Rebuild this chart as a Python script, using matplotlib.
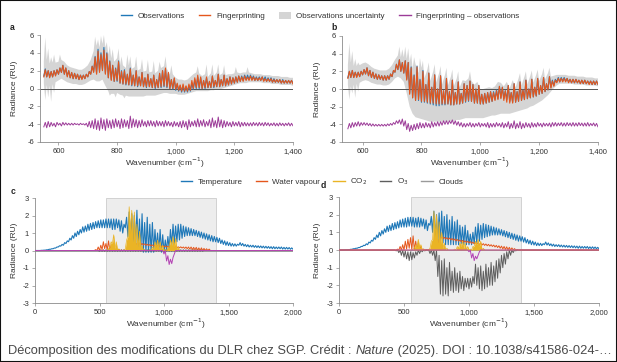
import numpy as np
import matplotlib
matplotlib.use("Agg")
import matplotlib.pyplot as plt
from matplotlib.patches import Rectangle, Patch
from matplotlib.lines import Line2D
from matplotlib.ticker import FuncFormatter

plt.rcParams['font.family'] = ['Liberation Sans', 'DejaVu Sans']
plt.rcParams['axes.unicode_minus'] = False

# ---------------- data: panels a, b (550..1400 step 10) ----------------
x_ab = np.arange(550, 1401, 10)

fp_a_lo = [1.3,1.3,1.2,1.3,1.4,1.6,1.8,1.6,1.3,1.2,
           1.1,1.1,1.0,1.0,1.1,1.3,1.6,1.8,1.6,1.8,
           2.0,1.6,1.2,0.9,0.8,0.9,0.6,0.5,0.5,0.4,
           0.4,0.3,0.3,0.3,0.2,0.2,0.2,0.1,0.1,0.1,
           0.2,0.3,0.2,0.0,0.0,-0.1,-0.2,-0.3,-0.3,-0.3,
           -0.2,0.0,0.1,0.1,0.0,0.1,0.1,0.1,0.2,0.2,
           0.2,0.3,0.3,0.4,0.5,0.6,0.7,0.8,0.8,0.9,
           0.9,0.9,0.9,0.9,0.9,0.8,0.8,0.8,0.7,0.7,
           0.7,0.6,0.6,0.6,0.6,0.5]
fp_a_hi = [2.1,2.0,1.9,2.0,2.1,2.3,2.6,2.3,2.0,1.8,
           1.7,1.6,1.5,1.5,1.6,1.9,2.5,3.5,4.2,3.8,
           4.3,3.9,3.0,2.6,2.2,3.0,1.9,2.0,1.6,2.2,
           1.5,2.0,1.3,1.8,1.2,1.6,1.1,1.5,1.0,1.7,
           2.0,2.3,1.8,1.0,1.2,0.6,0.4,0.5,0.3,0.5,
           0.9,1.2,1.5,1.3,0.9,1.3,0.8,1.4,0.9,1.6,
           1.0,1.5,1.1,1.3,1.2,1.3,1.4,1.3,1.4,1.3,
           1.4,1.3,1.2,1.2,1.3,1.1,1.1,1.1,1.0,1.0,
           1.0,0.9,0.9,0.9,0.9,0.8]
obs_a_lo = [1.4,1.3,1.3,1.3,1.5,1.6,1.8,1.6,1.4,1.2,
            1.1,1.1,1.0,1.1,1.1,1.3,1.6,1.9,1.7,1.9,
            2.1,1.7,1.2,1.0,0.8,0.8,0.6,0.5,0.4,0.4,
            0.3,0.3,0.2,0.3,0.2,0.1,0.2,0.1,0.0,0.1,
            0.1,0.2,0.1,0.0,-0.1,-0.2,-0.3,-0.4,-0.4,-0.4,
            -0.3,-0.1,0.0,0.0,0.0,0.0,0.1,0.1,0.1,0.2,
            0.2,0.3,0.3,0.4,0.5,0.6,0.7,0.8,0.9,1.0,
            1.0,1.0,0.9,0.9,0.9,0.9,0.8,0.8,0.7,0.7,
            0.7,0.6,0.6,0.6,0.6,0.6]
obs_a_hi = [2.2,2.0,1.9,2.0,2.1,2.3,2.6,2.3,2.0,1.8,
            1.7,1.6,1.5,1.5,1.6,1.9,2.5,3.6,4.4,4.0,
            4.6,4.0,3.1,2.6,2.3,3.1,2.0,2.1,1.6,2.3,
            1.5,2.0,1.3,1.8,1.2,1.6,1.1,1.5,1.0,1.7,
            2.0,2.2,1.7,1.0,1.1,0.5,0.3,0.3,0.2,0.3,
            0.6,1.0,1.3,1.2,0.9,1.2,0.8,1.4,0.9,1.6,
            1.0,1.5,1.1,1.3,1.2,1.3,1.4,1.4,1.5,1.5,
            1.5,1.4,1.3,1.3,1.3,1.3,1.2,1.2,1.1,1.0,
            1.0,1.0,0.9,0.9,0.9,0.8]
unc_a_up = [3.0,3.2,2.8,2.9,2.9,3.0,3.2,3.0,2.6,2.4,
            2.3,2.2,2.1,2.1,2.3,2.6,3.2,4.2,4.8,4.6,
            5.0,4.6,3.8,3.4,3.0,3.4,2.6,2.6,2.3,2.6,
            2.2,2.4,2.0,2.2,1.9,2.0,1.8,1.9,1.7,2.0,
            2.3,2.5,2.2,1.6,1.6,1.2,1.0,1.0,0.9,1.0,
            1.3,1.6,1.8,1.7,1.4,1.6,1.3,1.7,1.4,1.8,
            1.5,1.7,1.5,1.6,1.6,1.7,1.8,1.7,1.8,1.8,
            1.8,1.7,1.6,1.6,1.6,1.5,1.5,1.5,1.4,1.4,
            1.4,1.3,1.3,1.3,1.2,1.2]
unc_a_dn = [0.6,0.4,0.3,0.5,0.7,0.9,1.1,0.9,0.7,0.6,
            0.5,0.5,0.4,0.4,0.5,0.7,0.9,1.0,0.8,0.8,
            1.0,0.3,-0.3,-0.6,-0.6,-0.5,-0.7,-0.8,-0.8,-0.9,
            -0.9,-0.9,-0.9,-0.9,-0.9,-0.8,-0.8,-0.8,-0.8,-0.7,
            -0.6,-0.5,-0.5,-0.6,-0.6,-0.6,-0.7,-0.7,-0.7,-0.6,
            -0.5,-0.4,-0.3,-0.3,-0.3,-0.3,-0.3,-0.2,-0.2,-0.1,
            -0.1,0.0,0.1,0.2,0.3,0.4,0.5,0.6,0.6,0.6,
            0.7,0.7,0.7,0.7,0.7,0.6,0.6,0.6,0.5,0.5,
            0.5,0.4,0.4,0.4,0.4,0.3]
unc_a_spk_x = [555,565,575,585,605,725,735,745,755,765,775,785,805,815,835,845,865,
               885,905,925,945,965,985,1075,1105,1125,1145,1165,1205,1245]
unc_a_spk_y = [5.7,4.5,3.5,3.8,3.8,5.8,5.5,5.9,6.0,5.2,4.8,4.4,4.5,3.6,3.8,3.6,3.6,
               3.3,3.2,3.1,3.0,3.6,2.6,2.5,2.7,2.7,2.7,2.6,2.4,2.4]
unc_a_dspk_x = [555,565,575,585,775,795,825]
unc_a_dspk_y = [-1.3,-1.0,-1.5,-0.5,-0.8,-1.0,-1.1]
diff_a_lo = [-4.3,-4.4,-4.3,-4.2,-4.3,-4.1,-4.2,-4.1,-4.1,-4.1,
             -4.1,-4.05,-4.1,-4.05,-4.1,-4.3,-4.4,-4.5,-4.6,-4.7,
             -4.5,-4.7,-4.4,-4.5,-4.4,-4.3,-4.5,-4.4,-4.3,-4.5,
             -4.4,-4.3,-4.4,-4.3,-4.2,-4.3,-4.2,-4.2,-4.3,-4.2,
             -4.2,-4.3,-4.2,-4.2,-4.3,-4.2,-4.3,-4.4,-4.3,-4.6,
             -4.3,-4.2,-4.3,-4.3,-4.2,-4.3,-4.2,-4.4,-4.3,-4.4,
             -4.3,-4.4,-4.3,-4.2,-4.3,-4.2,-4.2,-4.3,-4.2,-4.2,
             -4.2,-4.2,-4.15,-4.2,-4.15,-4.2,-4.15,-4.2,-4.15,-4.2,
             -4.2,-4.15,-4.2,-4.15,-4.2,-4.2]
diff_a_hi = [-3.8,-3.7,-3.8,-3.9,-3.8,-3.9,-3.8,-3.85,-3.9,-3.9,
             -3.9,-3.95,-3.9,-3.95,-3.9,-3.7,-3.6,-3.4,-3.6,-3.3,
             -3.5,-3.4,-3.6,-3.5,-3.4,-3.6,-3.4,-3.5,-3.6,-3.1,
             -3.4,-3.5,-3.6,-3.5,-3.7,-3.6,-3.6,-3.7,-3.6,-3.7,
             -3.7,-3.6,-3.7,-3.8,-3.7,-3.8,-3.7,-3.6,-3.7,-3.5,
             -3.7,-3.6,-3.4,-3.6,-3.5,-3.7,-3.5,-3.3,-3.6,-3.2,
             -3.5,-3.6,-3.7,-3.8,-3.7,-3.8,-3.7,-3.8,-3.8,-3.85,
             -3.85,-3.8,-3.85,-3.8,-3.85,-3.8,-3.85,-3.9,-3.85,-3.9,
             -3.85,-3.9,-3.9,-3.85,-3.9,-3.9]

fp_b_lo = [1.2,1.3,1.3,1.3,1.4,1.6,1.7,1.5,1.3,1.2,
           1.1,1.1,1.0,1.0,1.1,1.4,1.9,2.2,2.0,1.8,
           1.0,-0.6,-1.0,-1.3,-1.2,-1.4,-1.4,-1.5,-1.6,-1.6,
           -1.7,-1.7,-1.7,-1.7,-1.7,-1.8,-1.8,-1.7,-1.7,-1.6,
           -1.4,-1.3,-1.4,-1.6,-1.6,-1.7,-1.7,-1.6,-1.5,-1.4,
           -1.3,-1.2,-1.1,-1.3,-1.5,-1.6,-1.6,-1.5,-1.4,-1.3,
           -1.2,-1.1,-1.0,-0.9,-0.8,-0.6,-0.5,-0.3,-0.1,0.1,
           0.3,0.7,0.8,0.8,0.8,0.7,0.7,0.7,0.7,0.6,
           0.6,0.6,0.5,0.5,0.5,0.5]
fp_b_hi = [2.0,2.1,1.9,1.9,2.0,2.2,2.4,2.1,1.9,1.7,
           1.6,1.5,1.5,1.5,1.7,2.1,2.8,3.3,3.0,3.2,
           3.0,2.4,1.5,2.5,1.0,2.0,0.5,1.8,0.2,1.6,
           0.0,1.5,-0.2,1.2,-0.3,1.0,-0.4,0.8,-0.5,0.6,
           0.4,0.9,0.5,0.0,0.4,-0.6,-0.5,-0.4,-0.3,-0.4,
           -0.2,0.3,0.2,-0.2,0.4,-0.4,0.6,-0.3,0.8,-0.1,
           1.0,0.0,1.1,0.2,1.2,0.4,1.3,0.6,1.4,0.9,
           1.0,1.2,1.2,1.2,1.2,1.1,1.1,1.1,1.0,1.0,
           1.0,0.9,0.9,0.9,0.9,0.8]
obs_b_lo = [1.3,1.3,1.3,1.4,1.4,1.6,1.7,1.5,1.3,1.2,
            1.1,1.1,1.0,1.0,1.1,1.4,1.9,2.2,2.0,1.8,
            1.1,-0.5,-1.0,-1.3,-1.3,-1.5,-1.5,-1.6,-1.7,-1.8,
            -1.9,-1.9,-1.8,-1.8,-1.7,-1.8,-1.8,-1.7,-1.7,-1.6,
            -1.5,-1.4,-1.4,-1.6,-1.6,-1.7,-1.7,-1.6,-1.5,-1.4,
            -1.2,-1.1,-1.0,-1.1,-1.2,-1.4,-1.5,-1.5,-1.4,-1.3,
            -1.2,-1.1,-1.0,-0.9,-0.8,-0.6,-0.5,-0.3,-0.1,0.2,
            0.4,0.8,0.8,0.9,0.9,0.8,0.7,0.7,0.7,0.6,
            0.6,0.6,0.6,0.5,0.5,0.5]
obs_b_hi = [2.0,2.1,1.9,1.9,2.0,2.2,2.4,2.1,1.9,1.7,
            1.6,1.5,1.5,1.5,1.7,2.1,2.8,3.3,3.0,3.2,
            3.0,2.5,1.6,2.6,1.1,2.1,0.5,1.8,0.2,1.6,
            0.0,1.5,-0.2,1.2,-0.3,1.0,-0.4,0.8,-0.5,0.6,
            0.4,0.9,0.5,0.0,0.4,-0.6,-0.5,-0.4,-0.3,-0.3,
            -0.1,0.3,0.2,-0.2,0.4,-0.4,0.6,-0.3,0.8,-0.1,
            1.0,0.0,1.1,0.2,1.2,0.4,1.3,0.6,1.4,1.0,
            1.1,1.3,1.3,1.3,1.2,1.1,1.1,1.1,1.0,1.0,
            1.0,0.9,0.9,0.9,0.9,0.8]
unc_b_up = [2.7,3.0,2.6,2.6,2.7,2.9,3.0,2.8,2.5,2.3,
            2.2,2.1,2.1,2.1,2.3,2.7,3.3,3.8,3.6,3.6,
            3.4,3.0,2.3,2.8,1.8,2.4,1.2,2.2,0.9,2.0,
            0.7,1.8,0.5,1.6,0.4,1.4,0.3,1.2,0.2,1.0,
            0.9,1.2,0.9,0.5,0.8,0.0,0.0,0.1,0.2,0.1,
            0.3,0.8,0.7,0.3,0.8,0.1,1.0,0.2,1.2,0.4,
            1.4,0.5,1.5,0.7,1.6,0.9,1.7,1.1,1.8,1.4,
            1.5,1.6,1.6,1.6,1.6,1.5,1.5,1.5,1.4,1.4,
            1.4,1.3,1.3,1.3,1.2,1.2]
unc_b_dn = [0.5,0.3,0.5,0.6,0.7,0.9,1.0,0.9,0.7,0.6,
            0.5,0.5,0.4,0.4,0.5,0.8,1.2,1.4,1.2,0.8,
            -0.5,-2.0,-2.8,-3.2,-3.3,-3.4,-3.5,-3.6,-3.7,-3.7,
            -3.7,-3.7,-3.7,-3.7,-3.7,-3.6,-3.6,-3.5,-3.5,-3.4,
            -3.3,-3.3,-3.3,-3.3,-3.3,-3.3,-3.3,-3.2,-3.1,-3.0,
            -3.0,-2.9,-2.8,-2.8,-2.8,-2.8,-2.7,-2.6,-2.5,-2.4,
            -2.3,-2.2,-2.0,-1.9,-1.7,-1.5,-1.3,-1.0,-0.7,-0.3,
            0.1,0.4,0.6,0.6,0.6,0.6,0.6,0.5,0.5,0.5,
            0.5,0.4,0.4,0.4,0.4,0.3]
unc_b_spk_x = [555,565,575,585,725,735,745,755,765,775,795,805,825,845,865,885,
               905,925,965,1135,1155,1175,1195,1215,1235]
unc_b_spk_y = [5.2,4.3,3.4,3.0,4.8,4.5,4.8,4.6,4.0,3.6,3.5,3.2,3.0,2.8,2.6,2.4,
               2.2,2.0,2.0,1.8,2.0,2.1,2.2,2.4,2.4]
unc_b_dspk_x = [555,565,575,585]
unc_b_dspk_y = [-1.2,-0.5,-1.0,-0.3]
diff_b_lo = [-4.5,-4.4,-4.3,-4.2,-4.2,-4.1,-4.1,-4.15,-4.2,-4.2,
             -4.2,-4.2,-4.2,-4.2,-4.15,-4.1,-4.0,-3.9,-4.0,-4.2,
             -4.6,-4.8,-4.7,-4.6,-4.5,-4.4,-4.4,-4.3,-4.4,-4.3,
             -4.2,-4.2,-4.1,-4.0,-4.0,-3.9,-4.0,-4.1,-4.2,-4.3,
             -4.3,-4.2,-4.3,-4.3,-4.2,-4.3,-4.2,-4.3,-4.4,-4.3,
             -4.3,-4.2,-4.3,-4.4,-4.3,-4.5,-4.4,-4.5,-4.4,-4.5,
             -4.4,-4.3,-4.4,-4.3,-4.3,-4.2,-4.3,-4.2,-4.2,-4.3,
             -4.2,-4.2,-4.15,-4.2,-4.2,-4.15,-4.2,-4.2,-4.2,-4.15,
             -4.2,-4.2,-4.2,-4.15,-4.2,-4.3]
diff_b_hi = [-3.9,-3.8,-3.8,-3.7,-3.8,-3.8,-3.85,-3.9,-3.95,-4.0,
             -4.0,-4.0,-4.0,-3.95,-3.9,-3.8,-3.6,-3.5,-3.4,-3.6,
             -3.9,-4.1,-4.0,-3.9,-3.8,-3.9,-3.8,-3.9,-3.7,-3.8,
             -3.7,-3.7,-3.6,-3.6,-3.6,-3.5,-3.6,-3.7,-3.8,-3.9,
             -3.9,-3.8,-3.9,-3.9,-3.8,-3.9,-3.9,-3.8,-3.9,-3.9,
             -3.8,-3.9,-3.8,-3.9,-3.7,-3.9,-3.6,-3.9,-3.7,-3.9,
             -3.8,-3.9,-3.8,-3.9,-3.8,-3.9,-3.85,-3.9,-3.85,-3.8,
             -3.8,-3.85,-3.8,-3.85,-3.8,-3.85,-3.8,-3.85,-3.8,-3.85,
             -3.85,-3.8,-3.9,-3.85,-3.9,-3.9]

# ---------------- data: panels c, d (0..2000 step 20) ----------------
x_cd = np.arange(0, 2001, 20)

temp_c_lo = [0,0,0,0.01,0.02,0.04,0.07,0.1,0.14,0.2,
             0.25,0.3,0.4,0.5,0.6,0.7,0.8,0.9,1.0,1.05,
             1.1,1.15,1.2,1.25,1.3,1.3,1.3,1.3,1.3,1.3,
             1.2,1.2,1.3,1.1,1.0,1.3,0.8,0.3,0.1,0.2,
             0.2,0.0,-0.1,-0.1,-0.1,-0.1,-0.1,0.1,0.0,-0.1,
             -0.1,0.0,0.1,0.3,0.4,0.5,0.6,0.7,0.8,0.85,
             0.85,0.85,0.85,0.8,0.75,0.7,0.65,0.6,0.55,0.5,
             0.5,0.45,0.4,0.35,0.3,0.28,0.25,0.25,0.25,0.3,
             0.28,0.25,0.22,0.2,0.2,0.18,0.17,0.16,0.15,0.14,
             0.13,0.12,0.1,0.1,0.1,0.1,0.08,0.08,0.08,0.07,
             0.07]
temp_c_hi = [0,0,0.01,0.02,0.04,0.07,0.1,0.14,0.2,0.27,
             0.35,0.45,0.55,0.7,0.85,1.0,1.1,1.2,1.35,1.4,
             1.5,1.55,1.6,1.65,1.7,1.75,1.75,1.8,1.8,1.8,
             1.8,1.8,1.75,1.7,1.5,1.9,2.2,2.1,2.0,2.3,
             1.8,2.1,1.6,1.9,1.5,1.6,1.2,1.0,1.2,0.9,
             0.6,0.8,1.2,1.5,1.4,1.5,1.5,1.4,1.35,1.3,
             1.25,1.2,1.15,1.1,1.05,1.0,0.95,0.9,0.85,0.8,
             0.75,0.7,0.6,0.55,0.5,0.45,0.4,0.38,0.36,0.45,
             0.4,0.35,0.33,0.3,0.3,0.28,0.27,0.26,0.25,0.24,
             0.23,0.22,0.22,0.2,0.2,0.2,0.18,0.18,0.17,0.15,
             0.15]
temp_d_lo = [0,0,0,0.01,0.02,0.04,0.07,0.1,0.14,0.2,
             0.25,0.3,0.4,0.5,0.6,0.7,0.8,0.9,1.0,1.05,
             1.1,1.15,1.2,1.25,1.3,1.3,1.3,1.35,1.35,1.3,
             1.3,1.3,1.35,1.2,1.1,1.4,1.0,0.6,0.3,0.4,
             0.4,0.3,0.3,0.3,0.3,0.3,0.3,0.35,0.3,0.3,
             0.3,0.3,0.35,0.4,0.5,0.6,0.7,0.75,0.8,0.85,
             0.85,0.85,0.85,0.8,0.75,0.7,0.65,0.6,0.55,0.5,
             0.5,0.45,0.4,0.35,0.3,0.28,0.25,0.25,0.25,0.3,
             0.28,0.25,0.22,0.2,0.2,0.18,0.17,0.16,0.15,0.14,
             0.13,0.12,0.1,0.1,0.1,0.1,0.08,0.08,0.08,0.07,
             0.07]
temp_d_hi = [0,0,0.01,0.02,0.04,0.07,0.1,0.14,0.2,0.27,
             0.35,0.45,0.55,0.7,0.85,1.0,1.1,1.2,1.35,1.4,
             1.5,1.55,1.6,1.7,1.75,1.8,1.85,1.85,1.85,1.8,
             1.85,1.8,1.75,1.7,1.5,1.9,2.2,2.0,2.1,2.2,
             1.9,2.0,1.7,1.9,1.6,1.7,1.4,1.3,1.4,1.1,
             0.9,1.0,1.3,1.5,1.4,1.5,1.45,1.4,1.35,1.3,
             1.25,1.2,1.15,1.1,1.05,1.0,0.95,0.9,0.85,0.8,
             0.75,0.7,0.6,0.55,0.5,0.45,0.4,0.38,0.36,0.45,
             0.4,0.35,0.33,0.3,0.3,0.28,0.27,0.26,0.25,0.24,
             0.23,0.22,0.22,0.2,0.2,0.2,0.18,0.18,0.17,0.15,
             0.15]

wv_c_lo = [0.0]*23 + [0,0,0,0.05,0.1,0.05,0,0,0,0,
                      0,0,0,0,0,0.0,0.3,0.35,0.33,0.32,
                      0.3,0.28,0.26,0.25,0.24,0.23,0.22,0.21,0.2,0.19,
                      0.18,0.17,0.16,0.15,0.14,0.12,0.1,0.08,0.05,0.03,
                      0.02,0,0,0,0] + [0.0]*33
wv_c_hi = [0.0]*23 + [0.05,0.2,0.3,0.5,0.4,0.55,0.3,0.3,0.1,0.05,
                      0.02,0.02,0.02,0.15,0.2,0.3,0.4,0.42,0.4,0.38,
                      0.36,0.34,0.32,0.3,0.29,0.28,0.27,0.26,0.25,0.24,
                      0.23,0.22,0.21,0.21,0.2,0.2,0.2,0.2,0.18,0.18,
                      0.15,0.15,0.12,0.1,0.08] + [0.0]*33
wv_d_lo = [0.0]*22 + [0,0,0,0,0.05,0.1,0.05,0,0,0,
                      0,0,0,0,0,0,0.2,0.6,0.65,0.62,
                      0.6,0.57,0.55,0.52,0.5,0.47,0.45,0.42,0.4,0.37,
                      0.35,0.32,0.3,0.28,0.26,0.24,0.22,0.2,0.17,0.14,
                      0.1,0.06,0.03,0,0,0,0] + [0.0]*32
wv_d_hi = [0.0]*22 + [0.05,0.2,0.3,0.5,0.6,0.7,0.8,0.5,0.4,0.2,
                      0.05,0.02,0.02,0.05,0.2,0.3,0.6,0.75,0.72,0.7,
                      0.68,0.65,0.62,0.6,0.57,0.55,0.52,0.5,0.48,0.45,
                      0.42,0.4,0.38,0.36,0.34,0.32,0.3,0.28,0.26,0.24,
                      0.22,0.2,0.18,0.15,0.12,0.08,0.03] + [0.0]*32

co2_c_lo = [0.0]*28 + [0,0.2,0.4,0.1,0,0,0,0.1,0.8,1.0,
                       0.5,0.3,0.2,0,0,0,0,0,0.1,0.2,
                       0.1,0,0,0,0.2,0.3,0.2,0] + [0.0]*45
co2_c_hi = [0.0]*28 + [0.1,0.5,0.9,0.5,0.1,0,0,0.6,2.5,2.3,
                       2.2,1.5,1.1,0.3,0.05,0,0.05,0.2,0.5,0.6,
                       0.5,0.3,0.05,0.2,0.6,0.8,0.7,0.2] + [0.0]*45
co2_d_lo = [0.0]*28 + [0,0.1,0.2,0.1,0,0,0,0.1,0.6,0.8,
                       0.4,0.3,0.1,0,0,0,0,0,0.1,0.2,
                       0.1,0,0,0,0.2,0.3,0.2,0] + [0.0]*45
co2_d_hi = [0.0]*28 + [0.05,0.3,0.6,0.3,0.05,0,0,0.5,2.2,2.0,
                       1.6,1.0,0.4,0.1,0,0,0.05,0.2,0.4,0.5,
                       0.4,0.2,0.05,0.2,0.5,0.6,0.5,0.1] + [0.0]*45

o3_c_lo = [0.0]*50 + [-0.2,-0.6,-0.8,-0.75,-0.2] + [0.0]*46
o3_c_hi = [0.0]*50 + [0.0,-0.3,-0.5,-0.4,0.0] + [0.0]*46
o3_d_lo = [0.0]*50 + [-0.1,-0.45,-0.6,-0.5,-0.1] + [0.0]*46
o3_d_hi = [0.0]*50 + [0.0,-0.2,-0.35,-0.3,0.0] + [0.0]*46

cl_c_lo = [0.0]*25 + [-0.04]*41 + [0.0]*35
cl_c_hi = [0.0]*25 + [0.04]*41 + [0.0]*35
cl_d_lo = [0.0]*22 + [-0.05,-0.15,-0.3,-0.4,-0.5,-0.6,-0.55,-0.45,-0.3,-0.2,
                      -0.1,-0.05,0.0,-0.2,-0.3,-0.6,-1.5,-2.5,-2.6,-2.5,
                      -2.6,-2.3,-2.4,-2.3,-2.4,-2.2,-2.3,-2.1,-2.2,-2.1,
                      -1.9,-2.0,-2.2,-2.3,-2.2,-2.1,-2.0,-2.0,-1.8,-1.6,
                      -1.3,-1.0,-0.8,-0.5,-0.3,-0.15,-0.05] + [0.0]*32
cl_d_hi = [0.0]*22 + [0,0,0,-0.05,-0.1,-0.1,-0.15,-0.1,0.0,0.0,
                      0,0,0,0,0,0,-0.3,-0.6,-0.5,-1.0,
                      -0.7,-1.2,-1.0,-1.3,-1.2,-1.5,-1.6,-1.6,-1.6,-1.5,
                      -0.8,-1.0,-0.9,-1.2,-0.8,-1.0,-0.7,-0.9,-0.6,-0.5,
                      -0.3,-0.2,-0.1,0.0,0,0,0] + [0.0]*32

shade_range = (550, 1400)

# ---------------- styling ----------------
C_BLUE = '#1f78b8'
C_ORANGE = '#e5561c'
C_UNC = '#d5d5d5'
C_DIFF = '#9c3b98'
C_YELLOW = '#eab425'
C_O3 = '#b444b4'
C_CLOUD = '#5e5e5e'
TICK_FS = 5.5
LAB_FS = 6.0
LEG_FS = 5.8

W, H = 617, 362
fig = plt.figure(figsize=(W / 100, H / 100), dpi=100)


def ax_px(l, r, t, b):
    return fig.add_axes([l / W, 1 - b / H, (r - l) / W, (b - t) / H])


def zig(x, lo, hi):
    x = np.asarray(x, float)
    step = x[1] - x[0]
    xs = np.column_stack([x, x + step / 2]).ravel()
    ys = np.column_stack([lo, hi]).ravel()
    return xs, ys


def merged(x, base, sx, sy):
    xx = np.concatenate([np.asarray(x, float), np.asarray(sx, float)])
    yy = np.concatenate([np.asarray(base, float), np.asarray(sy, float)])
    o = np.argsort(xx, kind='stable')
    return xx[o], yy[o]


def style(ax, xlim, ylim, xticks, yticks):
    ax.set_xlim(*xlim)
    ax.set_ylim(*ylim)
    ax.set_xticks(xticks)
    ax.set_yticks(yticks)
    ax.xaxis.set_major_formatter(FuncFormatter(lambda v, p: f'{int(v):,}'))
    for s in ('top', 'right'):
        ax.spines[s].set_visible(False)
    for s in ('left', 'bottom'):
        ax.spines[s].set_color('#8a8a8a')
        ax.spines[s].set_linewidth(0.6)
    ax.tick_params(direction='out', length=2.2, width=0.5, color='#8a8a8a',
                   labelsize=TICK_FS, labelcolor='#333333', pad=2)
    ax.set_facecolor('none')


def draw_ab(ax, obs_lo, obs_hi, fp_lo, fp_hi, up, dn, sx, sy, dsx, dsy, d_lo, d_hi, xlim):
    ux, uy = merged(x_ab, up, sx, sy)
    lx, ly = merged(x_ab, dn, dsx, dsy)
    ax.fill(np.concatenate([ux, lx[::-1]]), np.concatenate([uy, ly[::-1]]),
            color=C_UNC, lw=0, zorder=1)
    ax.axhline(0, color='#555555', lw=0.7, zorder=2)
    xs, ys = zig(x_ab, obs_lo, obs_hi)
    ax.plot(xs, ys, color=C_BLUE, lw=0.8, zorder=3)
    xs, ys = zig(x_ab, fp_lo, fp_hi)
    ax.plot(xs, ys, color=C_ORANGE, lw=0.8, zorder=4)
    xs, ys = zig(x_ab, d_lo, d_hi)
    ax.plot(xs, ys, color=C_DIFF, lw=0.7, zorder=4)
    style(ax, xlim, (-6, 6), [600, 800, 1000, 1200, 1400], range(-6, 7, 2))


def draw_cd(ax, t_lo, t_hi, w_lo, w_hi, c_lo, c_hi, o_lo, o_hi, k_lo, k_hi):
    ax.axvspan(*shade_range, facecolor='#ededed', edgecolor='#c4c4c4', lw=0.5, zorder=0)
    ax.axhline(0, color='#8a8a8a', lw=0.6, zorder=1)
    xs, ys = zig(x_cd, t_lo, t_hi)
    ax.plot(xs, ys, color=C_BLUE, lw=0.8, zorder=2)
    xs, ys = zig(x_cd, k_lo, k_hi)
    ax.plot(xs, ys, color=C_CLOUD, lw=0.7, zorder=3)
    xs, ys = zig(x_cd, w_lo, w_hi)
    ax.plot(xs, ys, color=C_ORANGE, lw=0.7, zorder=4)
    xs, ys = zig(x_cd, c_lo, c_hi)
    ax.fill_between(xs, 0, ys, color=C_YELLOW, lw=0, zorder=5)
    ax.plot(xs, ys, color=C_YELLOW, lw=0.5, zorder=5)
    xs, ys = zig(x_cd, o_lo, o_hi)
    ax.plot(xs, ys, color=C_O3, lw=0.7, zorder=6)
    style(ax, (0, 2000), (-3, 3), [0, 500, 1000, 1500, 2000], range(-3, 4))


axa = ax_px(40, 293, 35, 142)
draw_ab(axa, obs_a_lo, obs_a_hi, fp_a_lo, fp_a_hi, unc_a_up, unc_a_dn,
        unc_a_spk_x, unc_a_spk_y, unc_a_dspk_x, unc_a_dspk_y, diff_a_lo, diff_a_hi,
        (537, 1400))
axb = ax_px(342, 598, 36, 142)
draw_ab(axb, obs_b_lo, obs_b_hi, fp_b_lo, fp_b_hi, unc_b_up, unc_b_dn,
        unc_b_spk_x, unc_b_spk_y, unc_b_dspk_x, unc_b_dspk_y, diff_b_lo, diff_b_hi,
        (530, 1400))
axc = ax_px(35, 293, 198, 303)
draw_cd(axc, temp_c_lo, temp_c_hi, wv_c_lo, wv_c_hi, co2_c_lo, co2_c_hi,
        o3_c_lo, o3_c_hi, cl_c_lo, cl_c_hi)
axd = ax_px(339, 599, 197, 303)
draw_cd(axd, temp_d_lo, temp_d_hi, wv_d_lo, wv_d_hi, co2_d_lo, co2_d_hi,
        o3_d_lo, o3_d_hi, cl_d_lo, cl_d_hi)

# axis labels and panel letters
ylab = 'Radiance (RU)'
xlab = 'Wavenumber (cm$^{-1}$)'
for (xc, yc) in [(14, 88), (318, 89), (14, 250), (318, 250)]:
    fig.text(xc / W, 1 - yc / H, ylab, rotation=90, ha='center', va='center',
             fontsize=LAB_FS, color='#333333')
for (xc, yc) in [(165, 163), (470, 163), (166, 324), (469, 324)]:
    fig.text(xc / W, 1 - yc / H, xlab, ha='center', va='center',
             fontsize=LAB_FS, color='#333333')
for (lt, xc, yc) in [('a', 12, 27), ('b', 334, 27), ('c', 13, 192), ('d', 323, 186)]:
    fig.text(xc / W, 1 - yc / H, lt, ha='center', va='center',
             fontsize=6.2, fontweight='bold', color='#222222')

# legends
h1 = [Line2D([], [], color=C_BLUE, lw=1.0),
      Line2D([], [], color=C_ORANGE, lw=1.0),
      Patch(facecolor=C_UNC, edgecolor='none'),
      Line2D([], [], color=C_DIFF, lw=1.0)]
l1 = ['Observations', 'Fingerprinting', 'Observations uncertainty',
      'Fingerprinting \u2013 observations']
fig.legend(h1, l1, loc='center', bbox_to_anchor=(320 / W, 1 - 16 / H), ncol=4,
           frameon=False, fontsize=LEG_FS, handlelength=1.4, handleheight=0.9,
           columnspacing=1.8, handletextpad=0.7, labelcolor='#333333')
h2 = [Line2D([], [], color=C_BLUE, lw=1.0),
      Line2D([], [], color=C_ORANGE, lw=1.0),
      Line2D([], [], color=C_YELLOW, lw=1.0),
      Line2D([], [], color=C_CLOUD, lw=1.0),
      Line2D([], [], color='#9a9a9a', lw=1.0)]
l2 = ['Temperature', 'Water vapour', 'CO$_2$', 'O$_3$', 'Clouds']
fig.legend(h2, l2, loc='center', bbox_to_anchor=(322 / W, 1 - 182 / H), ncol=5,
           frameon=False, fontsize=LEG_FS, handlelength=1.4,
           columnspacing=1.6, handletextpad=0.7, labelcolor='#333333')

# caption (pieces so that "Nature" is italic)
fig.canvas.draw()
renderer = fig.canvas.get_renderer()
cap_fs = 9.25
cap_col = '#4a4a4a'
pieces = [('D\u00e9composition des modifications du DLR chez SGP. Cr\u00e9dit : ', 'normal'),
          ('Nature', 'italic'),
          (' (2025). DOI : 10.1038/s41586-024-\u2026', 'normal')]
xpos = 8
for txt, st in pieces:
    t = fig.text(xpos / W, 1 - 351 / H, txt, ha='left', va='center', fontsize=cap_fs,
                 style=st, color=cap_col)
    bb = t.get_window_extent(renderer=renderer)
    xpos += bb.width

fig.patches.append(Rectangle((0, 0), 1, 1, transform=fig.transFigure, fill=False,
                             edgecolor='#111111', lw=1.5, zorder=10))

fig.savefig('out.png', dpi=100)
